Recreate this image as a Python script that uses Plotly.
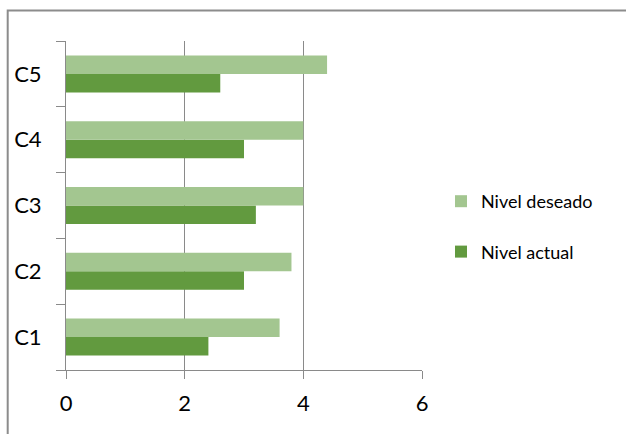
import plotly.graph_objects as go

categories = ["C1", "C2", "C3", "C4", "C5"]
nivel_actual = [2.4, 3.0, 3.2, 3.0, 2.6]
nivel_deseado = [3.6, 3.8, 4.0, 4.0, 4.4]
x_ticks = [0, 2, 4, 6]

DARK = "#629a3f"
LIGHT = "#a3c690"
AXIS = "#8a8a8a"
FONT = "Lato, 'Open Sans', sans-serif"

fig = go.Figure()
fig.add_trace(go.Bar(
    y=categories, x=nivel_actual, orientation="h", name="Nivel actual",
    marker=dict(color=DARK, line=dict(width=0)), legendgroup="a", legendrank=2,
))
fig.add_trace(go.Bar(
    y=categories, x=nivel_deseado, orientation="h", name="Nivel deseado",
    marker=dict(color=LIGHT, line=dict(width=0)), legendgroup="d", legendrank=1,
))

W, H = 626, 434
L, R, T, B = 66, 204, 41, 64
pw, ph = W - L - R, H - T - B

def px(x):
    return (x - L) / pw

def py(y):
    return 1 - (y - T) / ph

fig.update_layout(
    width=W, height=H,
    margin=dict(l=L, r=R, t=T, b=B, pad=0),
    paper_bgcolor="white", plot_bgcolor="white",
    barmode="group", bargap=0.437, bargroupgap=0,
    font=dict(family=FONT, color="#000000"),
    showlegend=True,
    legend=dict(
        x=px(441), y=py(183), xanchor="left", yanchor="top",
        traceorder="grouped", tracegroupgap=24,
        font=dict(size=18, family=FONT, color="#000000"),
        bgcolor="rgba(0,0,0,0)", borderwidth=0,
    ),
    xaxis=dict(
        range=[0, 6], tickvals=x_ticks, ticktext=[str(v) for v in x_ticks],
        showgrid=True, gridcolor=AXIS, gridwidth=1,
        zeroline=False, showline=True, linecolor=AXIS, linewidth=1,
        ticks="outside", ticklen=8, tickcolor=AXIS, tickwidth=1,
        tickfont=dict(size=22, family=FONT, color="#000000"),
        ticklabelstandoff=6,
        fixedrange=True,
    ),
    yaxis=dict(
        type="category", categoryorder="array", categoryarray=categories,
        showgrid=False, zeroline=False,
        showline=True, linecolor=AXIS, linewidth=1,
        ticks="outside", ticklen=9, tickcolor=AXIS, tickwidth=1,
        tickson="boundaries",
        tickfont=dict(size=22, family=FONT, color="#000000"),
        ticklabelstandoff=19,
        fixedrange=True,
    ),
    shapes=[
        dict(
            type="path", xref="paper", yref="paper",
            path=f"M {px(7.7)} {py(470)} L {px(7.7)} {py(10.5)} L {px(640)} {py(10.5)}",
            line=dict(color="#8c8c8c", width=2),
        )
    ],
)

fig.write_html("out.html", config={"displayModeBar": False})
